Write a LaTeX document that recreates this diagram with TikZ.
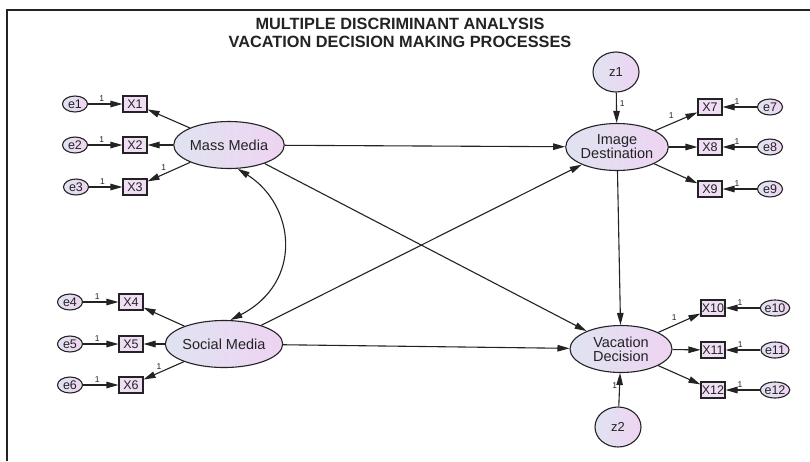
\documentclass[tikz,border=0pt]{standalone}
\usepackage{fontspec}
\setmainfont{Liberation Sans}
\usetikzlibrary{shapes.geometric,arrows.meta}
\definecolor{lblue}{RGB}{224,227,241}
\definecolor{lpink}{RGB}{238,212,242}
\definecolor{boxpink}{RGB}{240,222,245}
\definecolor{ink}{RGB}{35,35,35}
\begin{document}
\begin{tikzpicture}[x=1pt,y=-1pt,
  every node/.style={inner sep=0pt,text=ink},
  latent/.style={ellipse,draw=ink,line width=1.1pt,minimum width=102pt,minimum height=47pt,left color=lblue,right color=lpink,font=\fontsize{14.5}{14}\selectfont,align=center},
  errnode/.style={ellipse,draw=ink,line width=1.1pt,minimum width=25pt,minimum height=16pt,left color=lblue,right color=lpink,font=\fontsize{12.5}{12}\selectfont},
  distnode/.style={ellipse,draw=ink,line width=1.1pt,minimum width=46pt,minimum height=40pt,left color=lblue,right color=lpink,font=\fontsize{13}{13}\selectfont},
  obs/.style={rectangle,draw=ink,line width=1.1pt,fill=boxpink,minimum width=24pt,minimum height=16pt,font=\fontsize{12.5}{12}\selectfont},
  arr/.style={-{Triangle[length=12pt,width=6.5pt]},line width=1.1pt,draw=ink},
  dblarr/.style={{Triangle[length=12pt,width=6.5pt]}-{Triangle[length=12pt,width=6.5pt]},line width=1.1pt,draw=ink},
  lab/.style={font=\fontsize{8.5}{8.5}\selectfont}
]
\useasboundingbox (0,0) rectangle (810,461);
\fill[white] (0,0) rectangle (810,461);
\draw[line width=1.6pt,ink] (7,461) -- (7,10) -- (810,10);

\node[font=\bfseries\fontsize{16.3}{18}\selectfont,align=center] (title) at (400,33) {MULTIPLE DISCRIMINANT ANALYSIS\\VACATION DECISION MAKING PROCESSES};

% latent variables
\node[latent] (MM) at (229,145) {Mass Media};
\node[latent] (SM) at (224,344) {Social Media};
\node[latent] (ID) at (617,147) {Image\\Destination};
\node[latent] (VD) at (621,349) {Vacation\\Decision};
\node[distnode] (z1) at (616,72) {z1};
\node[distnode] (z2) at (618,427) {z2};

% observed, left
\node[obs] (X1) at (135,104) {X1};
\node[obs] (X2) at (135,145) {X2};
\node[obs] (X3) at (135,187) {X3};
\node[obs] (X4) at (131,302) {X4};
\node[obs] (X5) at (131,344) {X5};
\node[obs] (X6) at (131,385) {X6};
\node[errnode] (e1) at (75,104) {e1};
\node[errnode] (e2) at (75,145) {e2};
\node[errnode] (e3) at (76,187) {e3};
\node[errnode] (e4) at (70,302) {e4};
\node[errnode] (e5) at (70,344) {e5};
\node[errnode] (e6) at (70,385) {e6};

% observed, right
\node[obs] (X7) at (710,107) {X7};
\node[obs] (X8) at (710,147) {X8};
\node[obs] (X9) at (710,189) {X9};
\node[obs] (X10) at (713,308) {X10};
\node[obs] (X11) at (713,350) {X11};
\node[obs] (X12) at (713,390) {X12};
\node[errnode] (e7) at (770,107) {e7};
\node[errnode] (e8) at (770,147) {e8};
\node[errnode] (e9) at (770,189) {e9};
\node[errnode] (e10) at (775,308) {e10};
\node[errnode] (e11) at (775,350) {e11};
\node[errnode] (e12) at (775,390) {e12};

% error arrows left
\foreach \e/\x in {e1/X1,e2/X2,e3/X3,e4/X4,e5/X5,e6/X6}{
  \draw[arr] (\e) -- node[lab,pos=0.4,above=2pt]{1} (\x);
}
% error arrows right
\foreach \e/\x in {e7/X7,e8/X8,e9/X9,e10/X10,e11/X11,e12/X12}{
  \draw[arr] (\e) -- node[lab,pos=0.58,above=2pt]{1} (\x);
}

% loadings
\draw[arr] (MM) -- (X1);
\draw[arr] (MM) -- (X2);
\draw[arr] (MM) -- node[lab,pos=0.62,above=3pt]{1} (X3);
\draw[arr] (SM) -- (X4);
\draw[arr] (SM) -- (X5);
\draw[arr] (SM) -- node[lab,pos=0.62,above=3pt]{1} (X6);
\draw[arr] (ID) -- node[lab,pos=0.45,above=3pt,xshift=-3pt]{1} (X7);
\draw[arr] (ID) -- (X8);
\draw[arr] (ID) -- (X9);
\draw[arr] (VD) -- node[lab,pos=0.45,above=3pt,xshift=-3pt]{1} (X10);
\draw[arr] (VD) -- (X11);
\draw[arr] (VD) -- (X12);

% disturbances
\draw[arr] (z1) -- node[lab,pos=0.35,right=3pt]{1} (ID);
\draw[arr] (z2) -- node[lab,pos=0.62,left=2pt]{1} (VD);

% structural paths
\draw[arr] (MM) -- (ID);
\draw[arr] (MM) -- (VD);
\draw[arr] (SM) -- (ID);
\draw[arr] (SM) -- (VD);
\draw[arr] (ID) -- (VD);

% covariance
\draw[dblarr] (MM.290) .. controls (295,205) and (304,282) .. (SM.75);
\end{tikzpicture}
\end{document}
